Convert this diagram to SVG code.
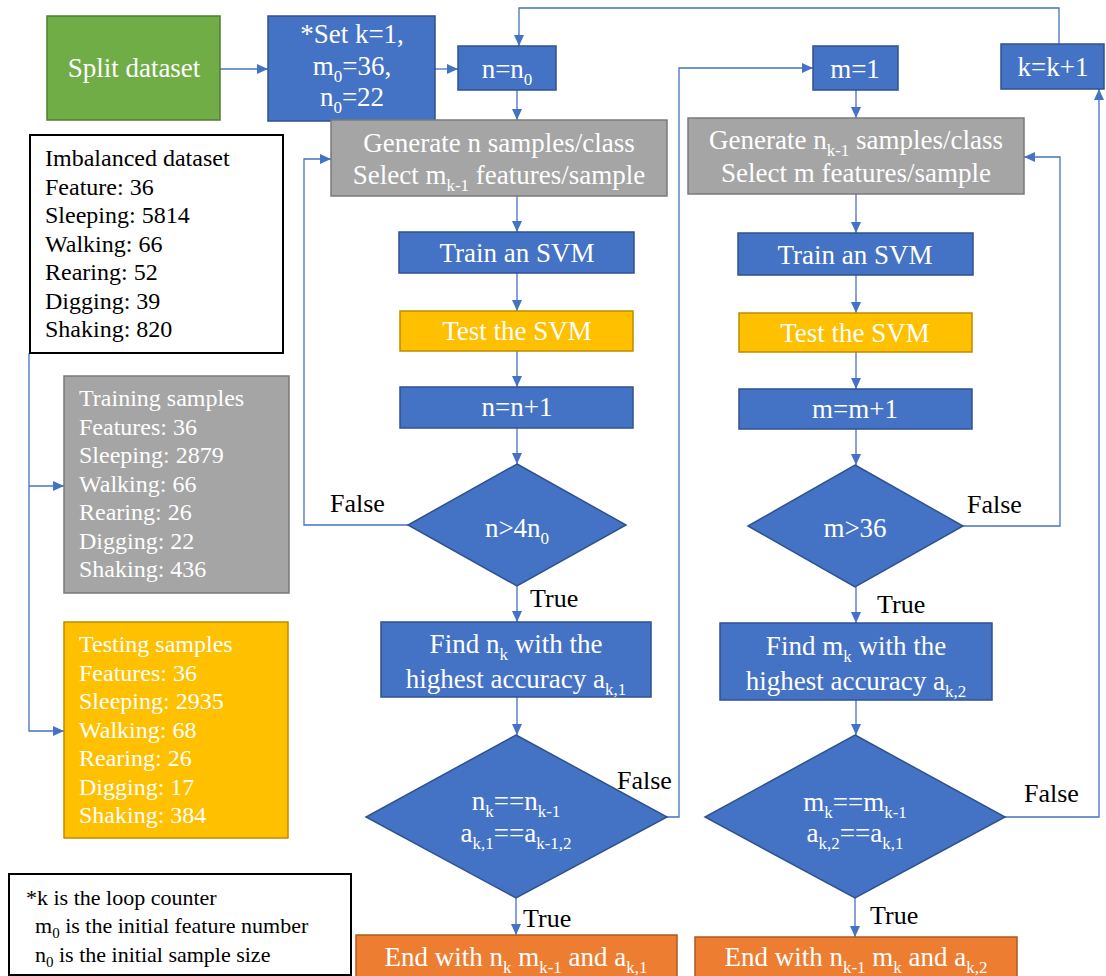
<svg xmlns="http://www.w3.org/2000/svg" width="1106" height="976" viewBox="0 0 1106 976">
<style>
text{font-family:"Liberation Serif","Times New Roman",serif;}
.w{fill:#ffffff;font-size:27px;text-anchor:middle;}
.lbl{fill:#000000;font-size:26px;}
.lt{fill:#000000;font-size:24px;}
.lw{fill:#ffffff;font-size:24px;}
.fn{fill:#000000;font-size:22px;}
.s{font-size:17px;}
.s2{font-size:15px;}
.blue{fill:#4472C4;stroke:#2F528F;stroke-width:1.5;}
.gray{fill:#A5A5A5;stroke:#7A7A7A;stroke-width:1.5;}
.yel{fill:#FFC000;stroke:#BC8C00;stroke-width:1.5;}
.org{fill:#ED7D31;stroke:#AE5A21;stroke-width:1.5;}
.grn{fill:#70AD47;stroke:#507E32;stroke-width:1.5;}
.box{fill:#ffffff;stroke:#000000;stroke-width:2;}
.c{fill:none;stroke:#4472C4;stroke-width:1.3;}
.a{marker-end:url(#ah);}
</style>
<defs>
<marker id="ah" markerUnits="userSpaceOnUse" markerWidth="12" markerHeight="10" refX="11" refY="5" orient="auto">
<path d="M0,0 L11,5 L0,10 z" fill="#4472C4"/>
</marker>
</defs>
<rect width="1106" height="976" fill="#ffffff"/>

<g id="connectors">
<path class="c a" d="M220,69 H268"/>
<path class="c a" d="M435,69 H458"/>
<path class="c a" d="M517,90 V120"/>
<path class="c a" d="M517,196 V232"/>
<path class="c a" d="M517,273 V311"/>
<path class="c a" d="M517,351 V387"/>
<path class="c a" d="M517,428 V464"/>
<path class="c a" d="M408,525 H304 V159 H331"/>
<path class="c a" d="M517,586 V622"/>
<path class="c a" d="M517,697 V735"/>
<path class="c a" d="M667,817 H679 V68 H813"/>
<path class="c a" d="M516,898 V935"/>
<path class="c a" d="M1059,44 V8 H519 V46"/>
<path class="c a" d="M856,90 V118"/>
<path class="c a" d="M856,194 V233"/>
<path class="c a" d="M856,275 V313"/>
<path class="c a" d="M856,352 V389"/>
<path class="c a" d="M856,429 V465"/>
<path class="c a" d="M963,526 H1060 V157 H1024"/>
<path class="c a" d="M856,587 V623"/>
<path class="c a" d="M856,700 V735"/>
<path class="c a" d="M855,898 V937"/>
<path class="c a" d="M1005,817 H1099 V89"/>
<path class="c a" d="M29,353 V731 H64"/>
<path class="c a" d="M29,486 H64"/>
</g>

<g id="split">
<rect class="grn" x="47" y="16" width="173" height="104"/>
<text class="w" x="134" y="77">Split dataset</text>
</g>

<g id="setk">
<rect class="blue" x="268" y="16" width="167" height="105"/>
<text class="w" x="352" y="43">*Set k=1,</text>
<text class="w" x="352" y="75">m<tspan class="s" dy="7">0</tspan><tspan dy="-7">=36,</tspan></text>
<text class="w" x="352" y="106">n<tspan class="s" dy="7">0</tspan><tspan dy="-7">=22</tspan></text>
</g>

<g id="n0">
<rect class="blue" x="458" y="46" width="98" height="44"/>
<text class="w" x="507" y="78">n=n<tspan class="s" dy="7">0</tspan></text>
</g>

<g id="gen1">
<rect class="gray" x="331" y="120" width="336" height="76"/>
<text class="w" x="499" y="152">Generate n samples/class</text>
<text class="w" x="499" y="184">Select m<tspan class="s" dy="7">k-1</tspan><tspan dy="-7"> features/sample</tspan></text>
</g>

<g id="train1">
<rect class="blue" x="399" y="232" width="235" height="41"/>
<text class="w" x="517" y="262">Train an SVM</text>
</g>

<g id="test1">
<rect class="yel" x="400" y="311" width="233" height="40"/>
<text class="w" x="517" y="340">Test the SVM</text>
</g>

<g id="nplus">
<rect class="blue" x="400" y="387" width="233" height="41"/>
<text class="w" x="517" y="416">n=n+1</text>
</g>

<g id="dia1">
<polygon class="blue" points="517,464 626,525 517,586 408,525"/>
<text class="w" x="517" y="537">n&gt;4n<tspan class="s" dy="7">0</tspan></text>
<text class="lbl" x="330" y="512">False</text>
<text class="lbl" x="530" y="607">True</text>
</g>

<g id="findn">
<rect class="blue" x="381" y="622" width="270" height="75"/>
<text class="w" x="516" y="653">Find n<tspan class="s" dy="7">k</tspan><tspan dy="-7"> with the</tspan></text>
<text class="w" x="516" y="688">highest accuracy a<tspan class="s" dy="7">k,1</tspan></text>
</g>

<g id="dia2">
<polygon class="blue" points="516,735 667,817 516,898 366,817"/>
<text class="w" x="516" y="810">n<tspan class="s" dy="7">k</tspan><tspan dy="-7">==n</tspan><tspan class="s" dy="7">k-1</tspan></text>
<text class="w" x="516" y="842">a<tspan class="s" dy="7">k,1</tspan><tspan dy="-7">==a</tspan><tspan class="s" dy="7">k-1,2</tspan></text>
<text class="lbl" x="617" y="789">False</text>
<text class="lbl" x="523" y="927">True</text>
</g>

<g id="end1">
<rect class="org" x="356" y="935" width="321" height="50"/>
<text class="w" x="516" y="966">End with n<tspan class="s" dy="7">k</tspan><tspan dy="-7"> m</tspan><tspan class="s" dy="7">k-1</tspan><tspan dy="-7"> and a</tspan><tspan class="s" dy="7">k,1</tspan></text>
</g>

<g id="m1">
<rect class="blue" x="813" y="46" width="85" height="44"/>
<text class="w" x="855" y="78">m=1</text>
</g>

<g id="kk1">
<rect class="blue" x="1001" y="44" width="103" height="45"/>
<text class="w" x="1053" y="76">k=k+1</text>
</g>

<g id="gen2">
<rect class="gray" x="688" y="118" width="336" height="76"/>
<text class="w" x="856" y="149">Generate n<tspan class="s" dy="7">k-1</tspan><tspan dy="-7"> samples/class</tspan></text>
<text class="w" x="856" y="182">Select m features/sample</text>
</g>

<g id="train2">
<rect class="blue" x="738" y="233" width="235" height="42"/>
<text class="w" x="855" y="264">Train an SVM</text>
</g>

<g id="test2">
<rect class="yel" x="739" y="313" width="233" height="39"/>
<text class="w" x="855" y="342">Test the SVM</text>
</g>

<g id="mplus">
<rect class="blue" x="739" y="389" width="233" height="40"/>
<text class="w" x="855" y="418">m=m+1</text>
</g>

<g id="dia3">
<polygon class="blue" points="855,465 963,526 855,587 748,526"/>
<text class="w" x="855" y="537">m&gt;36</text>
<text class="lbl" x="967" y="513">False</text>
<text class="lbl" x="877" y="613">True</text>
</g>

<g id="findm">
<rect class="blue" x="720" y="623" width="272" height="77"/>
<text class="w" x="856" y="655">Find m<tspan class="s" dy="7">k</tspan><tspan dy="-7"> with the</tspan></text>
<text class="w" x="856" y="690">highest accuracy a<tspan class="s" dy="7">k,2</tspan></text>
</g>

<g id="dia4">
<polygon class="blue" points="855,735 1005,817 855,898 705,817"/>
<text class="w" x="855" y="811">m<tspan class="s" dy="7">k</tspan><tspan dy="-7">==m</tspan><tspan class="s" dy="7">k-1</tspan></text>
<text class="w" x="855" y="842">a<tspan class="s" dy="7">k,2</tspan><tspan dy="-7">==a</tspan><tspan class="s" dy="7">k,1</tspan></text>
<text class="lbl" x="1024" y="802">False</text>
<text class="lbl" x="870" y="924">True</text>
</g>

<g id="end2">
<rect class="org" x="695" y="937" width="322" height="50"/>
<text class="w" x="856" y="966">End with n<tspan class="s" dy="7">k-1</tspan><tspan dy="-7"> m</tspan><tspan class="s" dy="7">k</tspan><tspan dy="-7"> and a</tspan><tspan class="s" dy="7">k,2</tspan></text>
</g>

<g id="imbalanced">
<rect class="box" x="30" y="135" width="253" height="218"/>
<text class="lt" x="45" y="166">Imbalanced dataset</text>
<text class="lt" x="45" y="194.5">Feature: 36</text>
<text class="lt" x="45" y="223">Sleeping: 5814</text>
<text class="lt" x="45" y="251.5">Walking: 66</text>
<text class="lt" x="45" y="280">Rearing: 52</text>
<text class="lt" x="45" y="308.5">Digging: 39</text>
<text class="lt" x="45" y="337">Shaking: 820</text>
</g>

<g id="training">
<rect class="gray" x="64" y="376" width="225" height="217"/>
<text class="lw" x="79" y="406">Training samples</text>
<text class="lw" x="79" y="434.5">Features: 36</text>
<text class="lw" x="79" y="463">Sleeping: 2879</text>
<text class="lw" x="79" y="491.5">Walking: 66</text>
<text class="lw" x="79" y="520">Rearing: 26</text>
<text class="lw" x="79" y="548.5">Digging: 22</text>
<text class="lw" x="79" y="577">Shaking: 436</text>
</g>

<g id="testing">
<rect class="yel" x="64" y="622" width="224" height="216"/>
<text class="lw" x="79" y="652">Testing samples</text>
<text class="lw" x="79" y="680.5">Features: 36</text>
<text class="lw" x="79" y="709">Sleeping: 2935</text>
<text class="lw" x="79" y="737.5">Walking: 68</text>
<text class="lw" x="79" y="766">Rearing: 26</text>
<text class="lw" x="79" y="794.5">Digging: 17</text>
<text class="lw" x="79" y="823">Shaking: 384</text>
</g>

<g id="footnote">
<rect class="box" x="9" y="874" width="342" height="101"/>
<text class="fn" x="26" y="905">*k is the loop counter</text>
<text class="fn" x="35" y="933">m<tspan class="s2" dy="5">0</tspan><tspan dy="-5"> is the initial feature number</tspan></text>
<text class="fn" x="35" y="962">n<tspan class="s2" dy="5">0</tspan><tspan dy="-5"> is the initial sample size</tspan></text>
</g>
</svg>
